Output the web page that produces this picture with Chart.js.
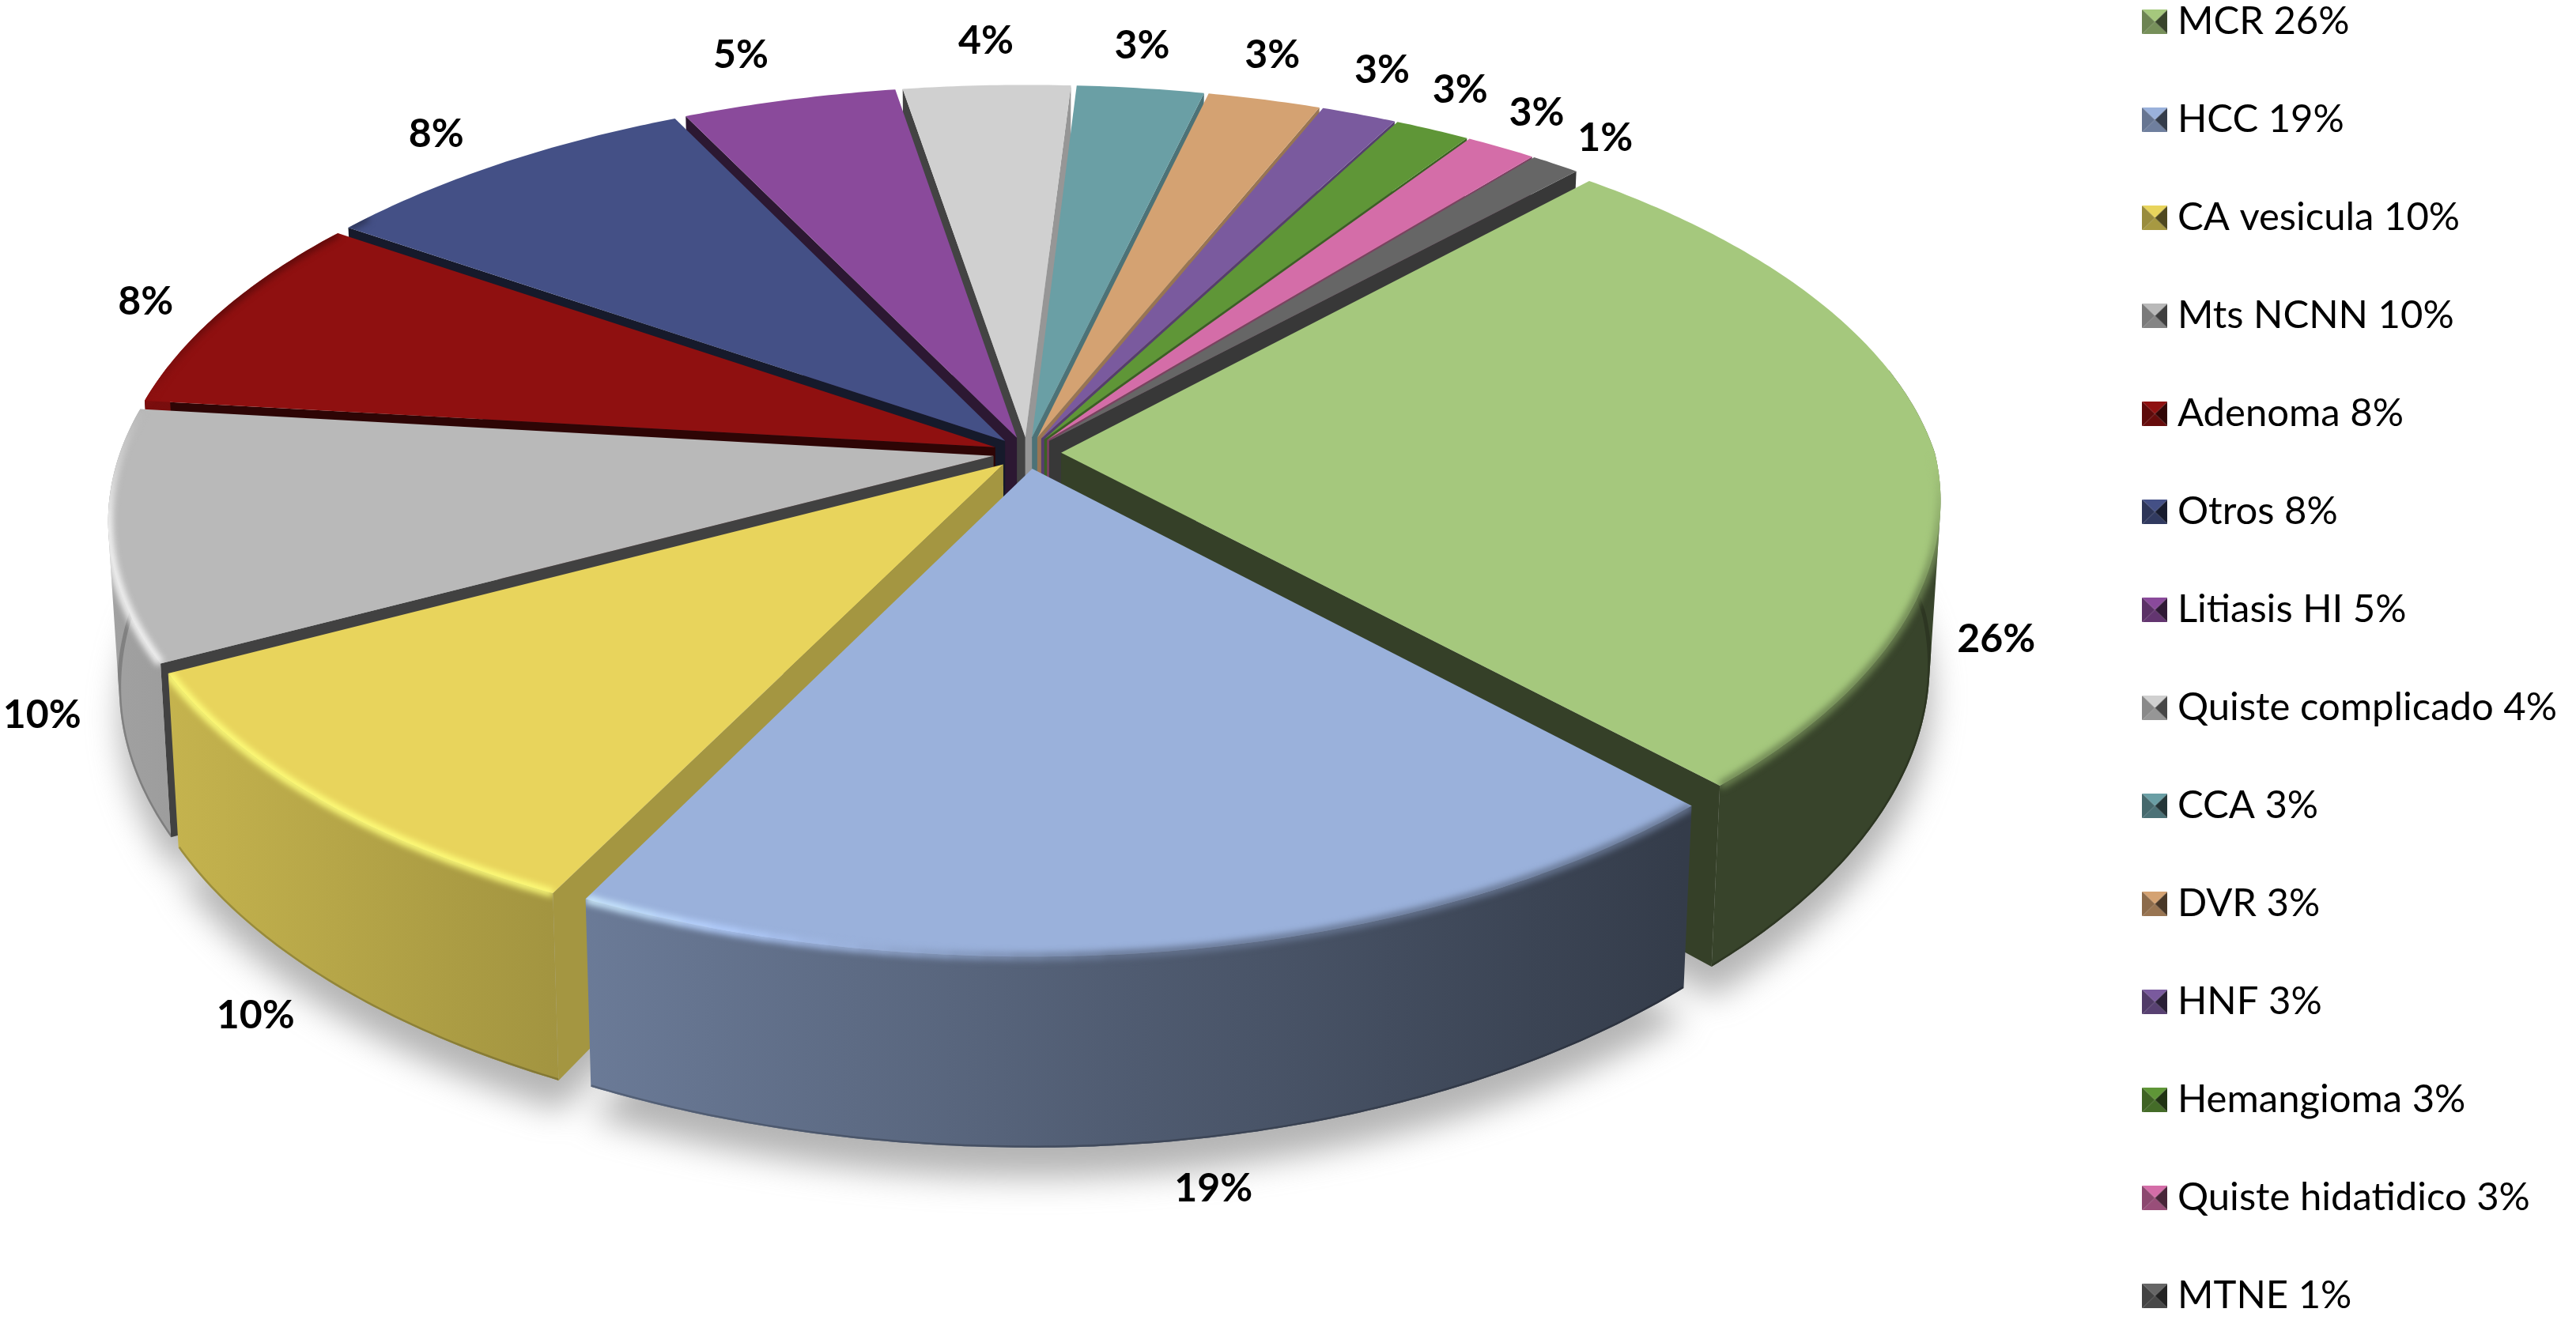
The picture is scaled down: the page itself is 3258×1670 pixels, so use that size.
<!DOCTYPE html>
<html>
<head>
<meta charset="utf-8">
<style>
  html, body { margin: 0; padding: 0; background: #fff; width: 3258px; height: 1670px; overflow: hidden; }
  #surface { position: absolute; left: 0; top: -72px; }
</style>
<script src="https://cdn.jsdelivr.net/npm/chart.js@4"></script>
</head>
<body>
<canvas id="surface" width="3258" height="1830"></canvas>
<script>
const categories = ['MCR', 'HCC', 'CA vesicula', 'Mts NCNN', 'Adenoma', 'Otros', 'Litiasis HI', 'Quiste complicado', 'CCA', 'DVR', 'HNF', 'Hemangioma', 'Quiste hidatidico', 'MTNE'];
// percentages as printed on the chart
const printedPercent = [26, 19, 10, 10, 8, 8, 5, 4, 3, 3, 3, 3, 3, 1];
// slice sizes as actually drawn in the picture (the small ones are thinner than their label says)
const sliceSizes = [26.1, 19.35, 9.95, 9.65, 7.8, 8.2, 4.55, 3.55, 2.7, 2.4, 1.6, 1.6, 1.5, 1.05];
const sliceColors = ['#a5c87d', '#9ab1db', '#e8d45c', '#b9b9b9', '#8f1010', '#445086', '#8a4a9b', '#d0d0d0', '#6a9fa5', '#d4a272', '#7a5a9e', '#5f9637', '#d46da8', '#666666'];

// layout of the tilted disc, in canvas pixels
const CANVAS_TOP = 72;
const CX = 1299, CY = 573 + CANVAS_TOP;
const F = 1105, G = 518, K = 0.15, DEPTH = 204, BOTTOM_SCALE = 0.988;
const NARROW_RIGHT = 0.04;
const labelShiftX = [93, 41, -88, -98, -97, -81, -61, -1, 2, 10, 29, 35, 45, 63];
const labelShiftY = [37, 61, 46, 19, -11, -37, -56, -56, -54, -56, -56, -50, -44, -33];

function rgb(hex) {
  return [1, 3, 5].map(i => parseInt(hex.slice(i, i + 2), 16));
}
function shade(hex, f) {
  const c = rgb(hex).map(v => Math.min(255, Math.round(v * f)));
  return `rgb(${c[0]},${c[1]},${c[2]})`;
}
function darker(hex, f) {
  return '#' + rgb(hex).map(v => Math.round(v * f).toString(16).padStart(2, '0')).join('');
}

// disc coordinates -> screen, z is 0 on the top face and 1 on the bottom face
function project(el, angle, r, z) {
  const off = el.options.offset / el.outerRadius;
  const mid = (el.startAngle + el.endAngle) / 2;
  const u = r * Math.cos(angle) + off * Math.cos(mid);
  const v = r * Math.sin(angle) + off * Math.sin(mid);
  const w = 1 - K * v;
  const narrow = u > 0 ? NARROW_RIGHT : 0;
  const sx = (z ? BOTTOM_SCALE : 1) * (1 - narrow * Math.max(v, 0));
  return {x: CX + sx * F * u / w, y: CY + G * v / w + z * DEPTH / w};
}

function arcAngles(el) {
  const out = [];
  const n = Math.max(4, Math.ceil((el.endAngle - el.startAngle) / 0.01));
  for (let i = 0; i <= n; i++) {
    out.push(el.startAngle + (el.endAngle - el.startAngle) * i / n);
  }
  return out;
}

function rimPoints(el, z) {
  return arcAngles(el).map(a => project(el, a, 1, z));
}

function addPoly(ctx, pts) {
  pts.forEach((p, i) => i ? ctx.lineTo(p.x, p.y) : ctx.moveTo(p.x, p.y));
  ctx.closePath();
}
// same winding for every sub-path, so overlapping pieces add up under nonzero fill
function addOriented(ctx, pts) {
  let area = 0;
  pts.forEach((p, i) => {
    const q = pts[(i + 1) % pts.length];
    area += p.x * q.y - q.x * p.y;
  });
  addPoly(ctx, area < 0 ? pts.slice().reverse() : pts);
}
function tracePoly(ctx, pts) {
  ctx.beginPath();
  addPoly(ctx, pts);
}

// the wall folds over itself at the silhouette, so it is built from small quads
function addWall(ctx, el, top, bottom) {
  const angles = arcAngles(el);
  for (let i = 0; i < angles.length - 1; i++) {
    if (Math.sin(angles[i]) < -0.2 && Math.sin(angles[i + 1]) < -0.2) continue;
    addOriented(ctx, [top[i], top[i + 1], bottom[i + 1], bottom[i]]);
  }
}

// side wall light falls off from left to right
function wallGradient(ctx, color) {
  const g = ctx.createLinearGradient(140, 0, 2460, 0);
  g.addColorStop(0, shade(color, 0.87));
  g.addColorStop(0.245, shade(color, 0.7));
  g.addColorStop(0.857, shade(color, 0.34));
  g.addColorStop(1, shade(color, 0.34));
  return g;
}

function cutFactor(normalDeg) {
  if (normalDeg <= 25) return 0.72;
  if (normalDeg >= 65) return 0.32;
  return 0.72 - (normalDeg - 25) / 40 * 0.4;
}

function drawCut(ctx, el, angle, side, color) {
  const mid = (el.startAngle + el.endAngle) / 2;
  const off = el.options.offset / el.outerRadius;
  const normal = angle + side * Math.PI / 2;
  const nx = Math.cos(normal), ny = Math.sin(normal);
  const dot = nx * (-off * Math.cos(mid)) + ny * (1 / K - off * Math.sin(mid));
  if (dot <= 0) return;
  const quad = [project(el, angle, 0, 0), project(el, angle, 1, 0), project(el, angle, 1, 1), project(el, angle, 0, 1)];
  const deg = Math.abs(Math.atan2(ny, nx) * 180 / Math.PI);
  ctx.fillStyle = shade(color, cutFactor(deg));
  tracePoly(ctx, quad);
  ctx.fill();
}

const rimLayer = document.createElement('canvas');

// soft bevel between the top face and the wall, stroked on a scratch canvas and blurred onto the chart
function drawRim(ctx, el, color) {
  rimLayer.width = ctx.canvas.width;
  rimLayer.height = ctx.canvas.height;
  const r = rimLayer.getContext('2d');
  const step = 0.03;
  r.lineCap = 'butt';
  r.lineWidth = 10;
  for (let a = el.startAngle; a < el.endAngle; a += step) {
    const b = Math.min(a + step + 0.006, el.endAngle);
    const deg = ((a * 180 / Math.PI) % 360 + 360) % 360;
    if (deg > 215) continue;
    let h = 0;
    if (deg > 85 && deg <= 115) h = (deg - 85) / 30;
    else if (deg > 115 && deg <= 170) h = 1;
    else if (deg > 170 && deg < 200) h = (200 - deg) / 30;
    const fade = h > 0 ? 1 : Math.min(1, deg / 18);
    const p = project(el, a, 1, 0), q = project(el, b, 1, 0);
    r.strokeStyle = h > 0 ? shade(color, 0.68 + 0.66 * h) : shade(color, 1 - 0.34 * fade);
    r.beginPath();
    r.moveTo(p.x, p.y);
    r.lineTo(q.x, q.y);
    r.stroke();
  }
  ctx.filter = 'blur(4px)';
  ctx.drawImage(rimLayer, 0, 0);
  ctx.filter = 'none';
}

function drawSlice(ctx, el, color) {
  const top = rimPoints(el, 0);
  const bottom = rimPoints(el, 1);
  const tip = project(el, el.startAngle, 0, 0);

  drawCut(ctx, el, el.startAngle, -1, color);
  drawCut(ctx, el, el.endAngle, 1, color);

  ctx.fillStyle = wallGradient(ctx, color);
  ctx.beginPath();
  addWall(ctx, el, top, bottom);
  ctx.fill();

  // darker line along the bottom edge of the wall
  ctx.save();
  ctx.beginPath();
  addWall(ctx, el, top, bottom);
  ctx.clip();
  ctx.strokeStyle = wallGradient(ctx, darker(color, 0.8));
  ctx.lineWidth = 5;
  ctx.beginPath();
  bottom.forEach((p, i) => i ? ctx.lineTo(p.x, p.y) : ctx.moveTo(p.x, p.y));
  ctx.stroke();
  ctx.restore();

  ctx.fillStyle = color;
  tracePoly(ctx, [tip].concat(top));
  ctx.fill();

  ctx.save();
  ctx.beginPath();
  addOriented(ctx, [tip].concat(top));
  addWall(ctx, el, top, bottom);
  ctx.clip();
  drawRim(ctx, el, color);
  ctx.restore();
}

const pie3d = {
  id: 'pie3d',
  // the arcs keep their angles from the library, only the painting is replaced
  beforeDatasetDraw(chart) {
    const ctx = chart.ctx;
    const arcs = chart.getDatasetMeta(0).data;

    ctx.save();
    ctx.filter = 'blur(20px)';
    ctx.fillStyle = 'rgba(130,130,130,0.6)';
    ctx.translate(2, 38);
    ctx.beginPath();
    arcs.forEach(el => addPoly(ctx, [project(el, el.startAngle, 0, 1)].concat(rimPoints(el, 1))));
    ctx.fill();
    ctx.restore();

    const order = arcs.map((el, i) => i).sort((a, b) => {
      const ma = (arcs[a].startAngle + arcs[a].endAngle) / 2;
      const mb = (arcs[b].startAngle + arcs[b].endAngle) / 2;
      return Math.sin(ma) - Math.sin(mb);
    });
    order.forEach(i => drawSlice(ctx, arcs[i], sliceColors[i]));

    // percent labels
    ctx.fillStyle = '#000';
    ctx.font = 'bold 50px Lato';
    ctx.textAlign = 'center';
    ctx.textBaseline = 'middle';
    arcs.forEach((el, i) => {
      const mid = (el.startAngle + el.endAngle) / 2;
      const p = project(el, mid, 1, Math.sin(mid) > -0.1 ? 1 : 0);
      ctx.fillText(printedPercent[i] + '%', p.x + labelShiftX[i], p.y + labelShiftY[i]);
    });
    return false;
  }
};

function makeMarker(color) {
  const c = document.createElement('canvas');
  c.width = 32;
  c.height = 31;
  const m = c.getContext('2d');
  const tri = (x1, y1, x2, y2, fill) => {
    m.fillStyle = fill;
    m.beginPath();
    m.moveTo(x1, y1);
    m.lineTo(x2, y2);
    m.lineTo(16, 15.5);
    m.closePath();
    m.fill();
  };
  tri(0, 31, 32, 31, shade(color, 0.72));
  tri(0, 0, 0, 31, shade(color, 0.66));
  tri(32, 0, 32, 31, shade(color, 0.34));
  tri(0, 0, 32, 0, color);
  return c;
}

const markers = sliceColors.map(makeMarker);

new Chart(document.getElementById('surface'), {
  type: 'pie',
  data: {
    labels: categories,
    datasets: [{data: sliceSizes, backgroundColor: sliceColors, offset: 35, borderWidth: 0, hoverOffset: 0}]
  },
  options: {
    responsive: false,
    animation: false,
    rotation: 42.5,
    events: [],
    layout: {padding: {right: 14}},
    plugins: {
      tooltip: {enabled: false},
      legend: {
        position: 'right',
        align: 'start',
        labels: {
          usePointStyle: true,
          boxWidth: 8,
          boxHeight: 31,
          padding: 75,
          color: '#000',
          font: {family: 'Lato', size: 49},
          generateLabels: () => categories.map((name, i) => ({
            text: `${name} ${printedPercent[i]}%`,
            fillStyle: sliceColors[i],
            strokeStyle: sliceColors[i],
            lineWidth: 0,
            pointStyle: markers[i],
            index: i
          }))
        }
      }
    }
  },
  plugins: [pie3d]
});
</script>
</body>
</html>
